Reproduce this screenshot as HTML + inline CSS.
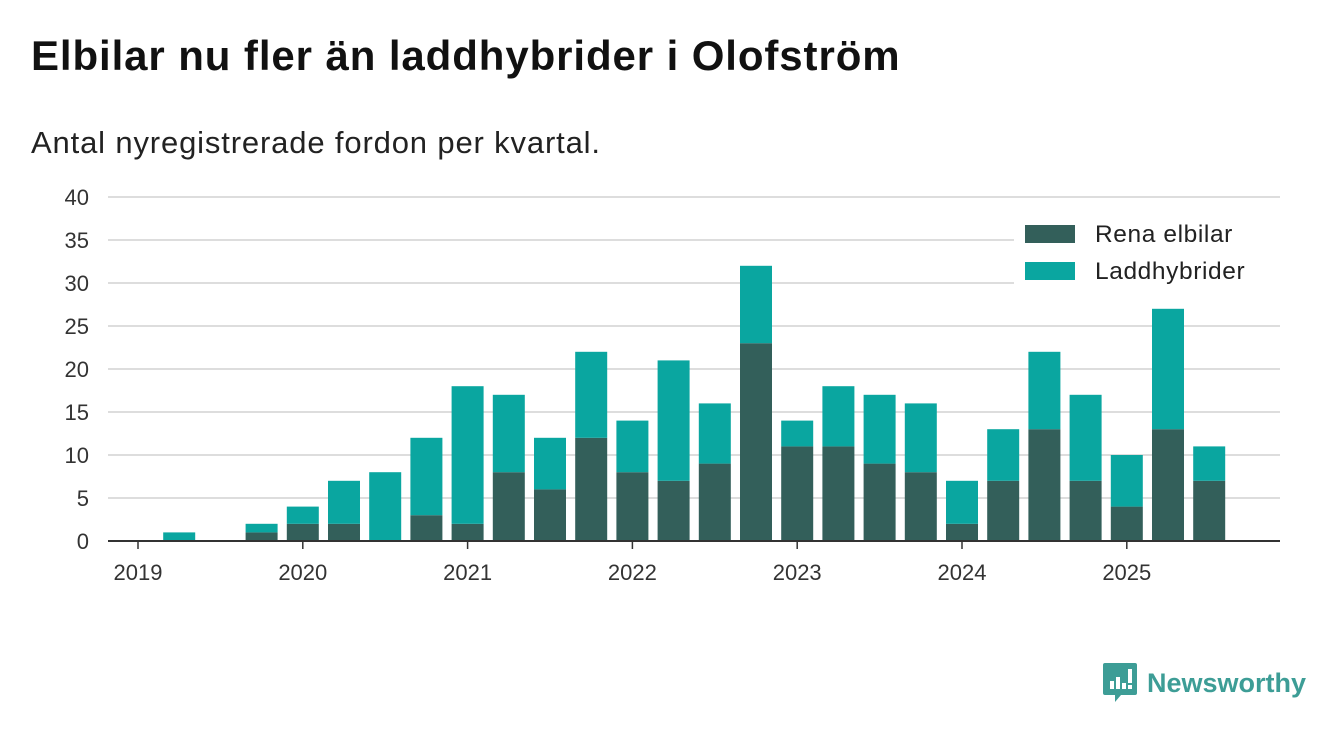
<!DOCTYPE html>
<html><head><meta charset="utf-8"><style>
body{margin:0;width:1340px;height:733px;background:#fff;font-family:"Liberation Sans",sans-serif;overflow:hidden;position:relative}
h1{position:absolute;left:31px;top:32px;margin:0;font-size:42px;font-weight:bold;color:#111;letter-spacing:0.9px}
.sub{position:absolute;left:31px;top:125px;font-size:31px;color:#222;letter-spacing:0.85px}
</style></head><body>
<h1>Elbilar nu fler än laddhybrider i Olofström</h1>
<div class="sub">Antal nyregistrerade fordon per kvartal.</div>
<svg id="chart" width="1340" height="733" style="position:absolute;left:0;top:0"></svg>
<div style="position:absolute;left:1103px;top:663px;display:flex;align-items:center">
<svg width="34" height="40" viewBox="0 0 34 40"><path d="M2 0h30a2 2 0 0 1 2 2v28a2 2 0 0 1-2 2H18l-6 7v-7H2a2 2 0 0 1-2-2V2a2 2 0 0 1 2-2z" fill="#3d9d96"/><rect x="7" y="18" width="4" height="8" fill="#fff"/><rect x="13" y="14" width="4" height="12" fill="#fff"/><rect x="19" y="20" width="4" height="6" fill="#fff"/><rect x="25" y="6" width="4" height="14" fill="#fff"/><rect x="25" y="22" width="4" height="4" fill="#fff"/></svg>
<span style="margin-left:10px;font-size:27px;font-weight:bold;color:#3d9d96">Newsworthy</span></div>
<script>
const quarters=["2019Q1","2019Q2","2019Q3","2019Q4","2020Q1","2020Q2","2020Q3","2020Q4","2021Q1","2021Q2","2021Q3","2021Q4","2022Q1","2022Q2","2022Q3","2022Q4","2023Q1","2023Q2","2023Q3","2023Q4","2024Q1","2024Q2","2024Q3","2024Q4","2025Q1","2025Q2","2025Q3"];
const elbilar=[0,0,0,1,2,2,0,3,2,8,6,12,8,7,9,23,11,11,9,8,2,7,13,7,4,13,7];
const laddhybrider=[0,1,0,1,2,5,8,9,16,9,6,10,6,14,7,9,3,7,8,8,5,6,9,10,6,14,4];
const yTicks=[0,5,10,15,20,25,30,35,40];
const xTickLabels=["2019","2020","2021","2022","2023","2024","2025"];
const svg=document.getElementById('chart');const NS="http://www.w3.org/2000/svg";
const x=i=>138+41.2*i, y=v=>541-v*8.6;
function mk(t,a,txt){const e=document.createElementNS(NS,t);for(const k in a)e.setAttribute(k,a[k]);if(txt!==undefined)e.textContent=txt;svg.appendChild(e);return e;}
yTicks.forEach(v=>{if(v>0){const l=mk('line',{x1:108,x2:1280,y1:y(v),y2:y(v),stroke:'#ddd','stroke-width':2});

}
const t=mk('text',{x:89,y:y(v)+8,'text-anchor':'end','font-size':22,fill:'#333','font-family':'Liberation Sans'},v);

});
quarters.forEach((q,i)=>{const e=elbilar[i],l=laddhybrider[i];
if(e>0){const r=mk('rect',{x:x(i)-16,y:y(e),width:32,height:e*8.6,fill:'#335f5a'});

}
if(l>0){const r=mk('rect',{x:x(i)-16,y:y(e+l),width:32,height:l*8.6,fill:'#0aa6a0'});

}});
const ax=mk('line',{x1:108,x2:1280,y1:541,y2:541,stroke:'#333','stroke-width':2});


xTickLabels.forEach((lab,k)=>{const xi=x(k*4);mk('line',{x1:xi,x2:xi,y1:541,y2:549,stroke:'#333','stroke-width':1.5});
const t=mk('text',{x:xi,y:580,'text-anchor':'middle','font-size':22,fill:'#333','font-family':'Liberation Sans'},lab);

});
const bg=mk('rect',{x:1014,y:215,width:268,height:75,fill:'#fff'});


[["Rena elbilar","#335f5a",234],["Laddhybrider","#0aa6a0",271]].forEach(([n,c,yy])=>{const r=mk('rect',{x:1025,y:yy-9,width:50,height:18,fill:c});


const t=mk('text',{x:1095,y:yy+8,'font-size':24.5,fill:'#222','font-family':'Liberation Sans','letter-spacing':0.6},n);

});
</script>
</body></html>
